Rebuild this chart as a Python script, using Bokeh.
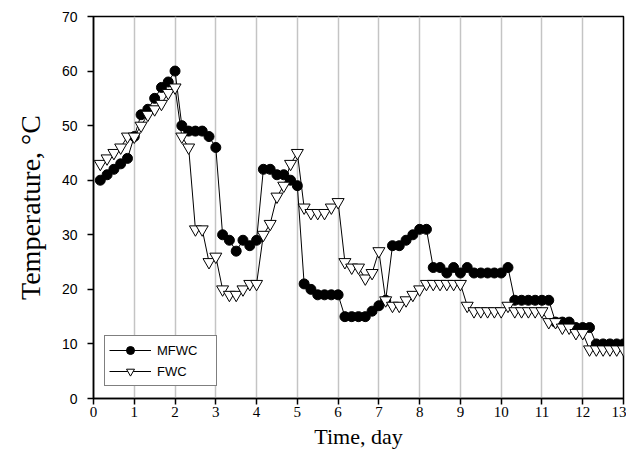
from bokeh.plotting import figure
from bokeh.models import ColumnDataSource, Legend, LegendItem, FixedTicker, Range1d
from bokeh.embed import file_html
from bokeh.resources import INLINE

# time points every 4 h (1/6 day)
steps = list(range(1, 79))
time_day = [k / 6 for k in steps]

mfwc = [40, 41, 42, 43, 44, 48, 52, 53, 55, 57, 58, 60,
        50, 49, 49, 49, 48, 46, 30, 29, 27, 29, 28, 29,
        42, 42, 41, 41, 40, 39, 21, 20, 19, 19, 19, 19,
        15, 15, 15, 15, 16, 17, 18, 28, 28, 29, 30, 31,
        31, 24, 24, 23, 24, 23, 24, 23, 23, 23, 23, 23,
        24, 18, 18, 18, 18, 18, 18, 14, 14, 14, 13, 13,
        13, 10, 10, 10, 10, 10]

fwc = [43, 44, 45, 46, 48, 48, 50, 52, 53, 54, 56, 57,
       48, 46, 31, 31, 25, 26, 20, 19, 19, 20, 21, 21,
       30, 32, 37, 39, 43, 45, 35, 34, 34, 34, 35, 36,
       25, 24, 24, 22, 23, 27, 18, 17, 17, 18, 19, 20,
       21, 21, 21, 21, 21, 21, 17, 16, 16, 16, 16, 16,
       17, 16, 16, 16, 16, 16, 14, 14, 13, 13, 12, 12,
       9, 9, 9, 9, 9, 9]

x_ticks = list(range(0, 14))
y_ticks = list(range(0, 80, 10))

src = ColumnDataSource(dict(t=time_day, mfwc=mfwc, fwc=fwc))

p = figure(width=626, height=452, output_backend="svg", toolbar_location=None,
           x_range=Range1d(0, 13), y_range=Range1d(0, 70),
           min_border_left=93, min_border_right=3, min_border_top=16, min_border_bottom=54)

p.background_fill_color = "white"
p.border_fill_color = "white"
p.outline_line_color = "black"
p.outline_line_width = 1.5

p.xaxis.ticker = FixedTicker(ticks=x_ticks)
p.yaxis.ticker = FixedTicker(ticks=y_ticks)
p.xgrid.ticker = FixedTicker(ticks=x_ticks)
p.xgrid.grid_line_color = "#c4c4c4"
p.xgrid.grid_line_width = 1.5
p.ygrid.grid_line_color = None

for ax in (p.xaxis, p.yaxis):
    ax.axis_line_color = "black"
    ax.axis_line_width = 1.5
    ax.major_tick_line_color = "black"
    ax.major_tick_line_width = 1.5
    ax.minor_tick_line_color = None
    ax.major_label_text_color = "black"
    ax.axis_label_text_color = "black"
    ax.axis_label_text_font_style = "normal"

p.xaxis.major_tick_in = 0
p.xaxis.major_tick_out = 6
p.yaxis.major_tick_in = 0
p.yaxis.major_tick_out = 6

p.xaxis.major_label_text_font = "Liberation Serif"
p.xaxis.major_label_text_font_size = "15px"
p.xaxis.major_label_standoff = 2
p.yaxis.major_label_text_font = "Liberation Sans"
p.yaxis.major_label_text_font_size = "14px"
p.yaxis.major_label_standoff = 10

p.xaxis.axis_label = "Time, day"
p.yaxis.axis_label = "Temperature, °C"
p.xaxis.axis_label_text_font = "Liberation Serif"
p.yaxis.axis_label_text_font = "Liberation Serif"
p.xaxis.axis_label_text_font_size = "22px"
p.yaxis.axis_label_text_font_size = "28px"
p.xaxis.axis_label_standoff = 4
p.yaxis.axis_label_standoff = 13

l1 = p.line("t", "mfwc", source=src, line_color="black", line_width=1)
m1 = p.scatter("t", "mfwc", source=src, marker="circle", size=10,
               fill_color="black", line_color="black")
l2 = p.line("t", "fwc", source=src, line_color="black", line_width=1)
m2 = p.scatter("t", "fwc", source=src, marker="inverted_triangle", size=12,
               fill_color="white", line_color="black", line_width=1)

legend = Legend(items=[LegendItem(label="MFWC", renderers=[l1, m1]),
                       LegendItem(label="FWC", renderers=[l2, m2])],
                location=(11, 12))
legend.border_line_color = "black"
legend.border_line_width = 1
legend.background_fill_alpha = 1
legend.label_text_font = "Liberation Sans"
legend.label_text_font_size = "13px"
legend.label_text_color = "black"
legend.glyph_width = 42
legend.glyph_height = 20
legend.label_height = 20
legend.label_width = 55
legend.label_standoff = 6
legend.padding = 4
legend.spacing = 1
legend.margin = 0
p.add_layout(legend, "center")

open("out.html", "w").write(file_html(p, INLINE))
